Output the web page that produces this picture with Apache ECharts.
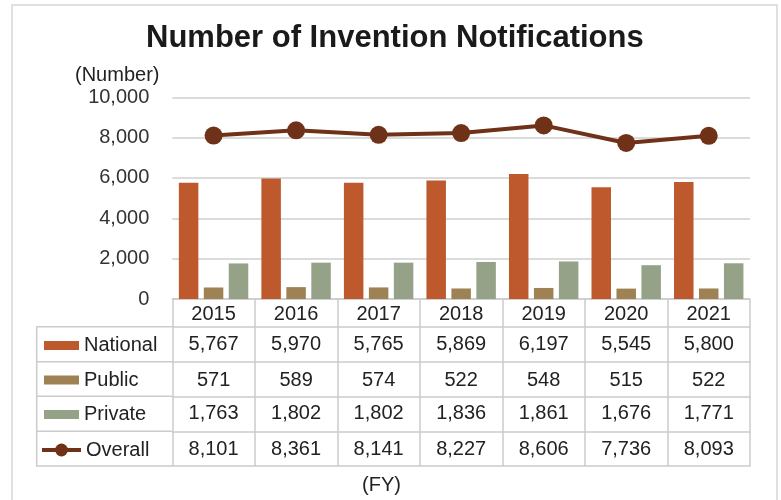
<!DOCTYPE html>
<html>
<head>
<meta charset="utf-8">
<script src="https://cdn.jsdelivr.net/npm/echarts@6/dist/echarts.min.js"></script>
<style>
html, body { margin: 0; padding: 0; background: #fff; }
#main { width: 781px; height: 500px; }
</style>
</head>
<body>
<div id="main"></div>
<script>
// data
var years = ['2015', '2016', '2017', '2018', '2019', '2020', '2021'];
var national = [5767, 5970, 5765, 5869, 6197, 5545, 5800];
var publicVals = [571, 589, 574, 522, 548, 515, 522];
var privateVals = [1763, 1802, 1802, 1836, 1861, 1676, 1771];
var overall = [8101, 8361, 8141, 8227, 8606, 7736, 8093];
var yTicks = [0, 2000, 4000, 6000, 8000, 10000];

var font = 'Liberation Sans, Arial, sans-serif';
var tableLine = '#cbcbcb';
var fmt = function (v) { return Number(v).toLocaleString('en-US'); };

var myChart = echarts.init(document.getElementById('main'));

// one x axis per table row: axis line = row top, ticks = cell dividers
function rowAxis(values, offset, tickLen, margin) {
    return {
        type: 'category',
        data: years,
        gridIndex: 0,
        position: 'bottom',
        offset: offset,
        axisLine: { show: true, lineStyle: { color: tableLine, width: 1.5 } },
        axisTick: { show: tickLen > 0, length: tickLen, interval: 0, lineStyle: { color: tableLine, width: 1.5 } },
        axisLabel: {
            show: !!values,
            interval: 0,
            margin: margin,
            fontFamily: font,
            fontSize: 20,
            color: '#222',
            formatter: function (v, i) { return values ? values[i] : ''; }
        },
        splitLine: { show: false }
    };
}

var option = {
    animation: false,
    textStyle: { fontFamily: font },
    title: [
        {
            text: 'Number of Invention Notifications',
            left: 146, top: 23, padding: 0,
            textStyle: { fontFamily: font, fontSize: 31, fontWeight: 'bold', color: '#1a1a1a' }
        },
        {
            text: '(Number)',
            left: 75, top: 65, padding: 0,
            textStyle: { fontFamily: font, fontSize: 20, fontWeight: 'normal', color: '#222' }
        },
        {
            text: '(FY)',
            left: 362, top: 475, padding: 0,
            textStyle: { fontFamily: font, fontSize: 20, fontWeight: 'normal', color: '#222' }
        }
    ],
    legend: [
        { data: ['National'], left: 44, top: 335.5 },
        { data: ['Public'], left: 44, top: 370 },
        { data: ['Private'], left: 44, top: 404.5 },
        { data: ['Overall'], left: 40, top: 440, itemWidth: 39, itemHeight: 16, lineStyle: { width: 4 } }
    ].map(function (l) {
        return Object.assign({
            padding: 0,
            selectedMode: false,
            icon: 'rect',
            itemWidth: 35,
            itemHeight: 9,
            itemGap: 5,
            textStyle: { fontFamily: font, fontSize: 20, color: '#222' }
        }, l, l.data[0] === 'Overall' ? { icon: null } : {});
    }),
    grid: { left: 172.3, right: 31, top: 97.3, bottom: 201 },
    xAxis: [
        rowAxis(years, 0, 27.7, 5.5),
        rowAxis(national.map(fmt), 27.7, 35, 7.3),
        rowAxis(publicVals.map(fmt), 62.7, 34.6, 8.3),
        rowAxis(privateVals.map(fmt), 97.3, 34.7, 7.3),
        rowAxis(overall.map(fmt), 132.3, 34.7, 8.2),
        rowAxis(null, 167, 0, 0)
    ],
    yAxis: {
        type: 'value',
        min: yTicks[0],
        max: yTicks[yTicks.length - 1],
        interval: yTicks[1] - yTicks[0],
        axisLine: { show: false },
        axisTick: { show: false },
        axisLabel: { margin: 23, fontFamily: font, fontSize: 20, color: '#333', formatter: fmt },
        splitLine: { lineStyle: { color: '#cfcfcf', width: 1.5 } }
    },
    series: [
        {
            name: 'National', type: 'bar', data: national,
            barWidth: 19.5, barGap: '28%',
            itemStyle: { color: '#BE592D' }
        },
        {
            name: 'Public', type: 'bar', data: publicVals,
            barWidth: 19.5, barGap: '28%',
            itemStyle: { color: '#9E8254' }
        },
        {
            name: 'Private', type: 'bar', data: privateVals,
            barWidth: 19.5, barGap: '28%',
            itemStyle: { color: '#96A288' }
        },
        {
            name: 'Overall', type: 'line', data: overall,
            symbol: 'circle', symbolSize: 18,
            lineStyle: { color: '#6F3218', width: 4 },
            itemStyle: { color: '#6F3218' },
            z: 5
        }
    ],
    graphic: [
        // outer frame
        { type: 'rect', shape: { x: 12, y: 5, width: 765, height: 520 },
          style: { fill: 'none', stroke: '#d6d6d6', lineWidth: 1.5 }, silent: true },
        // legend column of the data table
        { type: 'polyline', shape: { points: [[172.3, 326.7], [36.7, 326.7], [36.7, 466], [172.3, 466]] },
          style: { fill: 'none', stroke: tableLine, lineWidth: 1.5 }, silent: true },
        { type: 'line', shape: { x1: 36.7, y1: 361.7, x2: 172.3, y2: 361.7 },
          style: { stroke: tableLine, lineWidth: 1.5 }, silent: true },
        { type: 'line', shape: { x1: 36.7, y1: 396.3, x2: 172.3, y2: 396.3 },
          style: { stroke: tableLine, lineWidth: 1.5 }, silent: true },
        { type: 'line', shape: { x1: 36.7, y1: 431.3, x2: 172.3, y2: 431.3 },
          style: { stroke: tableLine, lineWidth: 1.5 }, silent: true }
    ]
};

myChart.setOption(option);
window.addEventListener('resize', function () {
    myChart.resize();
});
</script>
</body>
</html>
